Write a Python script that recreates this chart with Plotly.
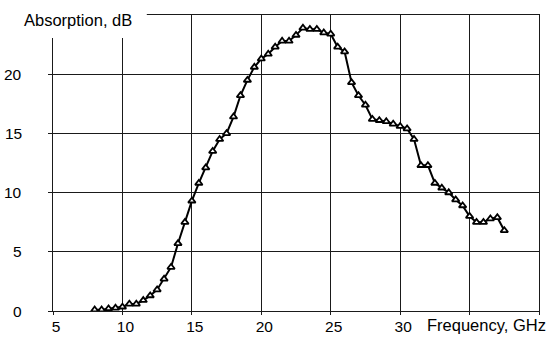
import plotly.graph_objects as go

# Frequency (GHz) and absorption (dB)
freq_ghz = [8.0, 8.5, 9.0, 9.5, 10.0, 10.5, 11.0, 11.5, 12.0, 12.5,
            13.0, 13.5, 14.0, 14.5, 15.0, 15.5, 16.0, 16.5, 17.0, 17.5,
            18.0, 18.5, 19.0, 19.5, 20.0, 20.5, 21.0, 21.5, 22.0, 22.5,
            23.0, 23.5, 24.0, 24.5, 25.0, 25.5, 26.0, 26.5, 27.0, 27.5,
            28.0, 28.5, 29.0, 29.5, 30.0, 30.5, 31.0, 31.5, 32.0, 32.5,
            33.0, 33.5, 34.0, 34.5, 35.0, 35.5, 36.0, 36.5, 37.0, 37.5]
absorption_db = [0.1, 0.1, 0.2, 0.25, 0.35, 0.6, 0.6, 0.9, 1.3, 1.8,
                 2.7, 3.7, 5.7, 7.5, 9.3, 10.8, 12.1, 13.5, 14.5, 15.0,
                 16.4, 18.2, 19.5, 20.6, 21.3, 21.7, 22.3, 22.8, 22.8, 23.3,
                 23.9, 23.8, 23.8, 23.5, 23.4, 22.3, 21.9, 19.3, 18.2, 17.4,
                 16.2, 16.1, 16.0, 15.8, 15.6, 15.4, 14.5, 12.3, 12.3, 10.8,
                 10.4, 10.0, 9.4, 8.9, 8.0, 7.5, 7.5, 7.8, 7.9, 6.8]

x_tickvals = [5, 10, 15, 20, 25, 30, 35, 40]
x_ticktext = ["5", "10", "15", "20", "25", "30", "", ""]
y_tickvals = [0, 5, 10, 15, 20, 25]
y_labelvals = [0, 5, 10, 15, 20]
y_labeltext = ["0", "5", "10", "15", "20"]

x_title = "Frequency, GHz"
y_title = "Absorption, dB"

FONT = "Liberation Sans, Arial, sans-serif"

fig = go.Figure()
fig.add_trace(go.Scatter(
    x=freq_ghz, y=absorption_db, mode="lines+markers",
    line=dict(color="black", width=2),
    marker=dict(symbol="triangle-up", size=6.5, color="white",
                line=dict(color="black", width=1.8)),
    showlegend=False,
))

axis_common = dict(
    showgrid=True, gridcolor="#1a1a1a", gridwidth=1,
    showline=True, linecolor="#1a1a1a", linewidth=1.2, mirror=True,
    ticks="outside", tickcolor="#1a1a1a", tickwidth=1,
    zeroline=False, tickmode="array", automargin=False,
    tickfont=dict(family=FONT, size=15.5, color="black"),
)

fig.update_xaxes(range=[5, 40], tickvals=x_tickvals, ticktext=x_ticktext,
                 ticklen=3, ticklabelshift=3, ticklabelstandoff=-2,
                 **axis_common)
fig.update_yaxes(range=[0, 25], tickvals=y_tickvals, showticklabels=False,
                 ticklen=4, **axis_common)

# y tick labels placed on the y scale
for v, t in zip(y_labelvals, y_labeltext):
    fig.add_annotation(text=t, xref="paper", yref="y", x=-0.0597, y=v,
                       xanchor="right", yanchor="middle", showarrow=False,
                       font=dict(family=FONT, size=15.5, color="black"))

# white patch behind the y-axis title (covers top-left grid corner)
fig.add_shape(type="rect", xref="paper", yref="paper",
              x0=-0.2, x1=0.193, y0=0.922, y1=1.1,
              fillcolor="white", line=dict(width=0), layer="above")

fig.add_annotation(text=y_title, xref="paper", yref="paper",
                   x=-0.064, y=0.983, xanchor="left", yanchor="middle",
                   showarrow=False,
                   font=dict(family=FONT, size=16.5, color="black"))
fig.add_annotation(text=x_title, xref="paper", yref="paper",
                   x=0.765, y=-0.047, xanchor="left", yanchor="middle",
                   showarrow=False,
                   font=dict(family=FONT, size=16.5, color="black"))

fig.update_layout(
    template="none",
    width=551, height=345,
    margin=dict(l=53, r=12, t=15, b=34, autoexpand=False),
    paper_bgcolor="white", plot_bgcolor="white",
    font=dict(family=FONT, color="black"),
)

fig.write_html("out.html",
               config={"displayModeBar": False},
               post_script="document.body.style.margin='0';"
                           "document.body.style.overflow='hidden';")
